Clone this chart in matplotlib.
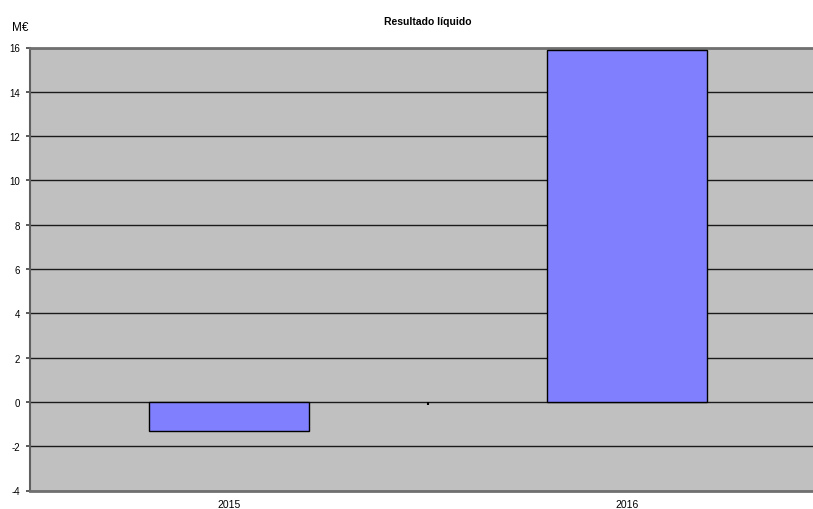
import numpy as np
import matplotlib.pyplot as plt

plt.rcParams['font.family'] = ['Liberation Sans', 'DejaVu Sans']

anos = ['2015', '2016']
resultado = [-1.31, 15.87]
y_ticks = [-4, -2, 0, 2, 4, 6, 8, 10, 12, 14, 16]

fig = plt.figure(figsize=(8.13, 5.10), dpi=100)
ax = fig.add_axes([30 / 813, 18.5 / 510, 796 / 813, 443 / 510])
ax.set_facecolor('#C0C0C0')

x = np.arange(len(anos))
ax.set_xlim(-0.5, len(anos) - 0.5)
ax.set_ylim(-4, 16)

for t in y_ticks:
    ax.axhline(t, color='#1a1a1a', lw=1.0, zorder=1)

ax.bar(x, resultado, width=0.4, color='#8080FF', edgecolor='black', lw=1.0, zorder=3)

# divisor entre categorias no eixo zero
ax.vlines(x[:-1] + 0.5, -0.15, 0, color='black', lw=1.5, zorder=2)

ax.set_yticks(y_ticks)
ax.set_yticklabels([str(t) for t in y_ticks], fontsize=7)
ax.tick_params(axis='y', length=3, width=1.2, color='#404040', pad=4)
ax.set_xticks(x)
ax.set_xticklabels(anos, fontsize=7.5)
ax.tick_params(axis='x', length=0, pad=6)

for side in ['top', 'bottom']:
    ax.spines[side].set_color('#707070')
    ax.spines[side].set_linewidth(2)
ax.spines['left'].set_color('#606060')
ax.spines['left'].set_linewidth(1.5)
ax.spines['right'].set_visible(False)

fig.text(428 / 813, 1 - 22 / 510, 'Resultado líquido', ha='center', va='center',
         fontsize=7.5, fontweight='bold')
fig.text(12 / 813, 1 - 28 / 510, 'M€', ha='left', va='center', fontsize=8.5)

fig.savefig('out.png', dpi=100)
